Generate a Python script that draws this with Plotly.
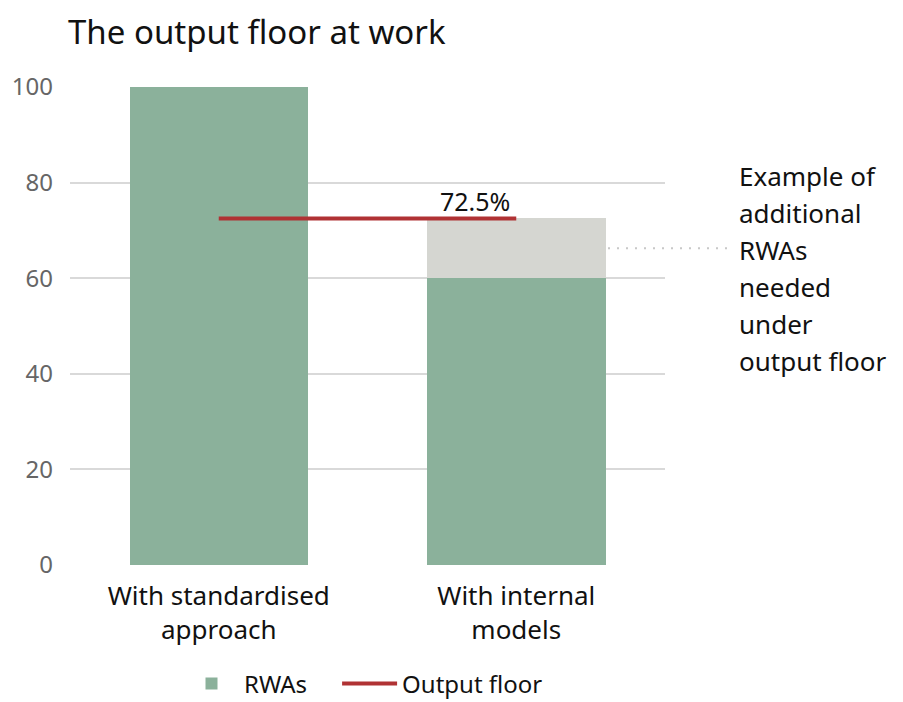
import plotly.graph_objects as go

categories = ["With standardised<br>approach", "With internal<br>models"]
cat_pos = [0, 1]
rwas = [100, 60]
floor_pct = 72.5
additional = [0, floor_pct - rwas[1]]
floor_line = [floor_pct, floor_pct]
yticks = [0, 20, 40, 60, 80, 100]
note_lines = ["Example of", "additional", "RWAs", "needed", "under", "output floor"]

FONT = "Noto Sans"
GREEN = "#8bb19b"
GREY = "#d5d6d1"
RED = "#b03234"

W, H = 903, 702
OFF = 8  # page body margin offset of the rendered figure
L, R, T, B = 70 - OFF, 238 + OFF, 87 - OFF, 137 + OFF
PW, PH = W - L - R, H - T - B

fig = go.Figure()
fig.add_trace(go.Bar(x=cat_pos, y=rwas, name="RWAs\u00a0\u00a0\u00a0\u00a0", marker_color=GREEN,
                     marker_line_width=0, width=0.6))
fig.add_trace(go.Bar(x=cat_pos, y=additional, name="Additional", marker_color=GREY,
                     marker_line_width=0, width=0.6, showlegend=False))
fig.add_trace(go.Scatter(x=cat_pos, y=floor_line, mode="lines", name="Output floor",
                         line=dict(color=RED, width=4)))

fig.add_annotation(x=0.86, y=floor_pct, xref="x", yref="y", text=f"{floor_pct}%",
                   showarrow=False, yanchor="bottom", yshift=-2,
                   font=dict(family=FONT, size=25, color="#111"))

# dotted leader line
mid = (rwas[1] + floor_pct) / 2
fig.add_shape(type="line", xref="paper", yref="y",
              x0=(608 - OFF - L) / PW, x1=(734 - OFF - L) / PW,
              y0=mid, y1=mid, line=dict(color="#c8c8c8", width=2, dash="2px,7px"))

for i, t in enumerate(note_lines):
    fig.add_annotation(x=(729 - L) / PW, y=(H - B - (176 - OFF + 37 * i)) / PH,
                       xref="paper", yref="paper", text=t,
                       showarrow=False, xanchor="left", yanchor="middle",
                       font=dict(family=FONT, size=26, color="#111"))

fig.update_layout(
    width=W, height=H,
    margin=dict(l=L, r=R, t=T, b=B, autoexpand=False),
    paper_bgcolor="white", plot_bgcolor="white",
    barmode="stack", bargap=0.4,
    title=dict(text="The output floor at work", x=60 / W, xanchor="left",
               y=1 - 24 / H, yanchor="middle", automargin=False,
               font=dict(family=FONT, size=33, color="#111")),
    font=dict(family=FONT),
    legend=dict(orientation="h", x=171 / W, xanchor="left",
                y=(H - 676) / H, yanchor="middle", yref="container", xref="container",
                traceorder="normal", itemwidth=55,
                font=dict(family=FONT, size=24, color="#111")),
    showlegend=True,
)
fig.update_xaxes(range=[-0.5, 1.5], tickvals=cat_pos, ticktext=categories,
                 showgrid=False, zeroline=False, showline=False, ticks="",
                 automargin=False, ticklabelstandoff=13,
                 tickfont=dict(family=FONT, size=26, color="#111"))
fig.update_yaxes(range=[0, 100], tickvals=yticks, showgrid=True, gridcolor="#d9d9d9",
                 gridwidth=2, zeroline=False, showline=False, ticks="",
                 automargin=False, ticklabelstandoff=16,
                 tickfont=dict(family=FONT, size=24, color="#666"))

fig.write_html("out.html")
